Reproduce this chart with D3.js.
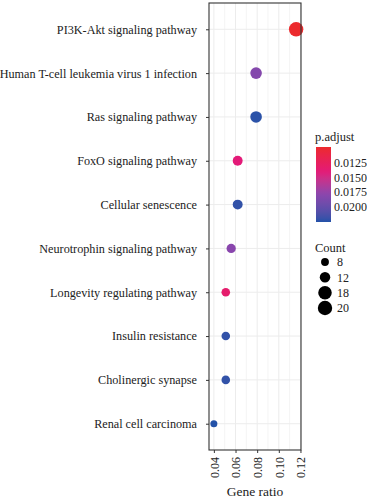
<!DOCTYPE html>
<html>
<head>
<meta charset="utf-8">
<script src="https://cdn.jsdelivr.net/npm/d3@7"></script>
<style>
  body { margin: 0; background: #fff; }
</style>
</head>
<body>
<div id="chart-area"></div>
<script>
// pathway enrichment dot plot

var pathways = ['PI3K-Akt signaling pathway', 'Human T-cell leukemia virus 1 infection',
  'Ras signaling pathway', 'FoxO signaling pathway', 'Cellular senescence',
  'Neurotrophin signaling pathway', 'Longevity regulating pathway',
  'Insulin resistance', 'Cholinergic synapse', 'Renal cell carcinoma']
var geneRatio = [0.116, 0.079, 0.079, 0.062, 0.062, 0.056, 0.051, 0.051, 0.051, 0.040]
var counts = [20, 14, 14, 11, 11, 10, 9, 9, 9, 7]
var pAdjust = [0.0098, 0.0183, 0.0224, 0.0140, 0.0222, 0.0180, 0.0133, 0.0222, 0.0222, 0.0226]
var xTicks = [0.04, 0.06, 0.08, 0.10, 0.12]
var pTicks = [0.0125, 0.0150, 0.0175, 0.0200]
var countBreaks = [8, 12, 18, 20]

var data = pathways.map((p, i) => ({ name: p, ratio: geneRatio[i], count: counts[i], p: pAdjust[i] }))

var W = 367, H = 500
var panel = { left: 209, right: 301, top: 3, bottom: 450 }
var serif = '"Liberation Serif", "Times New Roman", serif'

var svg = d3.select('#chart-area')
  .append('svg')
    .attr('width', W)
    .attr('height', H)
    .style('font-family', serif)

var x = d3.scaleLinear()
    .domain([0.0355, 0.1205])
    .range([panel.left, panel.right])

var y = d3.scalePoint()
    .domain(pathways)
    .range([panel.top, panel.bottom])
    .padding(0.6)

var pExtent = d3.extent(pAdjust)
var color = d3.scaleLinear()
    .domain([pExtent[0], pExtent[0] + 0.33 * (pExtent[1] - pExtent[0]),
             pExtent[0] + 0.62 * (pExtent[1] - pExtent[0]), pExtent[1]])
    .range(['#ec2a2d', '#e31a78', '#8d45ad', '#2352a8'])
    .interpolate(d3.interpolateLab)

var size = d3.scaleRadial()
    .domain([5, 20])
    .range([2.5, 7.2])

// grid
var grid = svg.append('g')
var minorTicks = d3.range(0.04, 0.121, 0.01)
grid.selectAll('line.v')
  .data(minorTicks)
  .enter().append('line')
    .attr('x1', d => x(d)).attr('x2', d => x(d))
    .attr('y1', panel.top).attr('y2', panel.bottom)
    .attr('stroke', d => xTicks.some(t => Math.abs(t - d) < 1e-9) ? '#ececec' : '#f4f4f4')
grid.selectAll('line.h')
  .data(pathways)
  .enter().append('line')
    .attr('x1', panel.left).attr('x2', panel.right)
    .attr('y1', d => y(d)).attr('y2', d => y(d))
    .attr('stroke', '#ececec')

// points
svg.append('g')
  .selectAll('circle')
  .data(data)
  .enter().append('circle')
    .attr('cx', d => x(d.ratio))
    .attr('cy', d => y(d.name))
    .attr('r', d => size(d.count))
    .attr('fill', d => color(d.p))

// panel border
svg.append('rect')
  .attr('x', panel.left).attr('y', panel.top)
  .attr('width', panel.right - panel.left)
  .attr('height', panel.bottom - panel.top)
  .attr('fill', 'none')
  .attr('stroke', '#333')
  .attr('stroke-width', 1.1)

// axes
var yAxis = svg.append('g')
  .attr('transform', 'translate(' + panel.left + ',0)')
  .call(d3.axisLeft(y).tickSize(3).tickPadding(9))
yAxis.select('.domain').remove()
yAxis.selectAll('line').attr('stroke', '#333')
yAxis.selectAll('text')
  .style('font-family', serif)
  .style('font-size', '12.2px')
  .attr('fill', '#222')

var xAxis = svg.append('g')
  .attr('transform', 'translate(0,' + panel.bottom + ')')
  .call(d3.axisBottom(x).tickValues(xTicks).tickFormat(d3.format('.2f')).tickSize(3))
xAxis.select('.domain').remove()
xAxis.selectAll('line').attr('stroke', '#333')
xAxis.selectAll('text')
  .style('font-family', serif)
  .style('font-size', '12px')
  .attr('fill', '#222')
  .attr('text-anchor', 'end')
  .attr('x', 0)
  .attr('y', 0)
  .attr('dy', '0.35em')
  .attr('transform', 'translate(0,7) rotate(-90)')

svg.append('text')
  .attr('x', (panel.left + panel.right) / 2)
  .attr('y', 496)
  .attr('text-anchor', 'middle')
  .style('font-family', serif)
  .style('font-size', '13.5px')
  .attr('fill', '#222')
  .text('Gene ratio')

// colour legend
var leg = svg.append('g')
leg.append('text')
  .attr('x', 315).attr('y', 141)
  .style('font-family', serif)
  .style('font-size', '12.5px')
  .attr('fill', '#222')
  .text('p.adjust')

var barTop = 147, barBottom = 222, barLeft = 316, barW = 15
var pBar = d3.scaleLinear().domain(pExtent).range([barTop, barBottom])
var grad = svg.append('defs').append('linearGradient')
  .attr('id', 'pgrad')
  .attr('x1', 0).attr('y1', 0).attr('x2', 0).attr('y2', 1)
d3.range(0, 1.0001, 0.05).forEach(t => {
  grad.append('stop')
    .attr('offset', t)
    .attr('stop-color', color(pExtent[0] + t * (pExtent[1] - pExtent[0])))
})
leg.append('rect')
  .attr('x', barLeft).attr('y', barTop)
  .attr('width', barW).attr('height', barBottom - barTop)
  .attr('fill', 'url(#pgrad)')
leg.selectAll('text.ptick')
  .data(pTicks)
  .enter().append('text')
    .attr('class', 'ptick')
    .attr('x', 334)
    .attr('y', d => pBar(d))
    .attr('dy', '0.35em')
    .style('font-family', serif)
    .style('font-size', '12px')
    .attr('fill', '#222')
    .text(d => d3.format('.4f')(d))

// size legend
leg.append('text')
  .attr('x', 315).attr('y', 252)
  .style('font-family', serif)
  .style('font-size', '12.5px')
  .attr('fill', '#222')
  .text('Count')

var cy = d3.scalePoint().domain(countBreaks).range([262, 308])
leg.selectAll('circle.cnt')
  .data(countBreaks)
  .enter().append('circle')
    .attr('class', 'cnt')
    .attr('cx', 325)
    .attr('cy', d => cy(d))
    .attr('r', d => size(d))
    .attr('fill', '#000')
leg.selectAll('text.cnt')
  .data(countBreaks)
  .enter().append('text')
    .attr('class', 'cnt')
    .attr('x', 337)
    .attr('y', d => cy(d))
    .attr('dy', '0.35em')
    .style('font-family', serif)
    .style('font-size', '12px')
    .attr('fill', '#222')
    .text(d => d)
</script>
</body>
</html>
